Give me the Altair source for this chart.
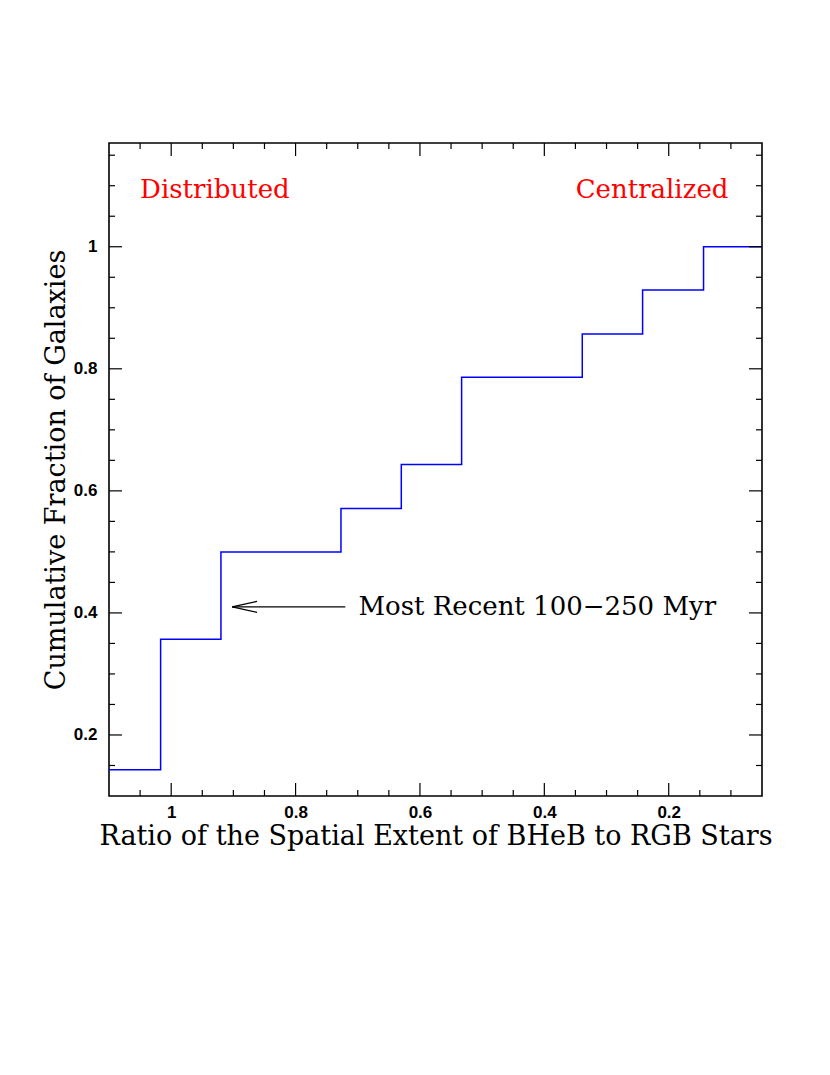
import altair as alt
import pandas as pd

# Step curve (cumulative fraction vs ratio)
step_x = [1.10, 1.017, 0.920, 0.727, 0.630, 0.533, 0.339, 0.242, 0.144, 0.05]
step_y = [0.143, 0.357, 0.500, 0.571, 0.643, 0.786, 0.857, 0.929, 1.000, 1.000]

# Tick values
x_major = [1.0, 0.8, 0.6, 0.4, 0.2]
x_minor = [1.05, 0.95, 0.9, 0.85, 0.75, 0.7, 0.65, 0.55, 0.5, 0.45, 0.35, 0.3, 0.25, 0.15, 0.1]
y_major = [0.2, 0.4, 0.6, 0.8, 1.0]
y_minor = [0.15, 0.25, 0.3, 0.35, 0.45, 0.5, 0.55, 0.65, 0.7, 0.75, 0.85, 0.9, 0.95, 1.05, 1.1, 1.15]

# Annotations
labels_text = ["Distributed", "Centralized"]
labels_x = [1.05, 0.104]
labels_y = [1.093, 1.093]
labels_align = ["left", "right"]

arrow_text = "Most Recent 100\u2212250 Myr"
arrow_text_x = 0.699
arrow_y = 0.410
arrow_start_x = 0.72
arrow_tip_x = 0.902
arrow_head_x = 0.862
arrow_head_dy = 0.009

X_DOMAIN = [1.10, 0.05]
Y_DOMAIN = [0.10, 1.17]
W = 653
H = 653
SERIF = "DejaVu Serif"
SANS = "Liberation Sans"
TXT = 26
TITLE = 27

xs = alt.Scale(domain=X_DOMAIN, nice=False, zero=False)
ys = alt.Scale(domain=Y_DOMAIN, nice=False, zero=False)

step_df = pd.DataFrame({"x": step_x, "y": step_y, "i": list(range(len(step_x)))})

curve = alt.Chart(step_df).mark_line(interpolate="step-after", color="#0000ff", strokeWidth=1.5).encode(
    x=alt.X("x:Q", scale=xs,
            axis=alt.Axis(title="Ratio of the Spatial Extent of BHeB to RGB Stars", values=x_major,
                          format="~g", ticks=False, domain=False, grid=False,
                          labelPadding=8, labelFontSize=17, labelFont=SANS, labelColor="black",
                          labelFontWeight="bold",
                          titleFont=SERIF, titleFontSize=TITLE, titleFontWeight="normal",
                          titleColor="black", titlePadding=3)),
    y=alt.Y("y:Q", scale=ys,
            axis=alt.Axis(title="Cumulative Fraction of Galaxies", values=y_major,
                          format="~g", ticks=False, domain=False, grid=False,
                          labelPadding=12, labelFontSize=17, labelFont=SANS, labelColor="black",
                          labelFontWeight="bold",
                          titleFont=SERIF, titleFontSize=TITLE, titleFontWeight="normal",
                          titleColor="black", titlePadding=3)),
    order="i:Q",
)

def tick_layer(vals, orient, length):
    df = pd.DataFrame({"v": vals})
    base = alt.Chart(df).mark_rule(color="black", strokeWidth=1.2)
    if orient == "bottom":
        return base.encode(x=alt.X("v:Q", scale=xs), y=alt.value(H), y2=alt.value(H - length))
    if orient == "top":
        return base.encode(x=alt.X("v:Q", scale=xs), y=alt.value(0), y2=alt.value(length))
    if orient == "left":
        return base.encode(y=alt.Y("v:Q", scale=ys), x=alt.value(0), x2=alt.value(length))
    return base.encode(y=alt.Y("v:Q", scale=ys), x=alt.value(W), x2=alt.value(W - length))

ticks = []
for o in ["bottom", "top"]:
    ticks.append(tick_layer(x_major, o, 13))
    ticks.append(tick_layer(x_minor, o, 6))
for o in ["left", "right"]:
    ticks.append(tick_layer(y_major, o, 13))
    ticks.append(tick_layer(y_minor, o, 6))

lab_df = pd.DataFrame({"t": labels_text, "x": labels_x, "y": labels_y, "a": labels_align})
left_lab = alt.Chart(lab_df[lab_df.a == "left"]).mark_text(
    color="red", font=SERIF, fontSize=TXT, align="left", baseline="middle").encode(
    x=alt.X("x:Q", scale=xs), y=alt.Y("y:Q", scale=ys), text="t:N")
right_lab = alt.Chart(lab_df[lab_df.a == "right"]).mark_text(
    color="red", font=SERIF, fontSize=TXT, align="right", baseline="middle").encode(
    x=alt.X("x:Q", scale=xs), y=alt.Y("y:Q", scale=ys), text="t:N")

arrow_txt = alt.Chart(pd.DataFrame({"t": [arrow_text], "x": [arrow_text_x], "y": [arrow_y]})).mark_text(
    color="black", font=SERIF, fontSize=TXT, align="left", baseline="middle").encode(
    x=alt.X("x:Q", scale=xs), y=alt.Y("y:Q", scale=ys), text="t:N")

arrow_df = pd.DataFrame({
    "x1": [arrow_start_x, arrow_tip_x, arrow_tip_x],
    "x2": [arrow_tip_x, arrow_head_x, arrow_head_x],
    "y1": [arrow_y, arrow_y, arrow_y],
    "y2": [arrow_y, arrow_y + arrow_head_dy, arrow_y - arrow_head_dy],
})
arrow = alt.Chart(arrow_df).mark_rule(color="black", strokeWidth=1.3).encode(
    x=alt.X("x1:Q", scale=xs), x2="x2:Q",
    y=alt.Y("y1:Q", scale=ys), y2="y2:Q")

chart = alt.layer(curve, *ticks, left_lab, right_lab, arrow_txt, arrow).properties(
    width=W, height=H,
    autosize=alt.AutoSizeParams(type="none"),
    padding={"left": 101, "top": 135, "right": 52, "bottom": 200},
).configure_view(stroke="black", strokeWidth=1.6)

chart.save("out.html", embed_options={"renderer": "svg", "actions": False})
